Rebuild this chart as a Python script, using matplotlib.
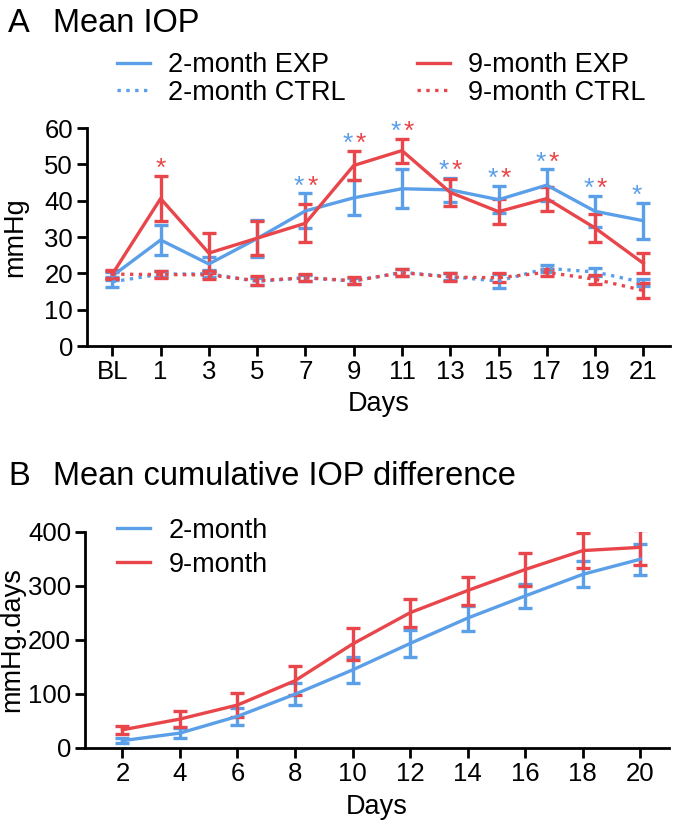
import matplotlib.pyplot as plt

plt.rcParams['font.family'] = ['Liberation Sans', 'DejaVu Sans']

BLUE = '#5B9FE8'
RED = '#E8464A'

# Panel A: mean IOP (mmHg)
days_a = [-1, 1, 3, 5, 7, 9, 11, 13, 15, 17, 19, 21]
day_labels_a = ['BL', '1', '3', '5', '7', '9', '11', '13', '15', '17', '19', '21']
exp_2m = [19.3, 29.2, 22.6, 29.6, 37.2, 40.8, 43.3, 43.0, 40.3, 44.3, 37.1, 34.5]
exp_2m_err = [1.2, 4.2, 1.8, 5.2, 4.8, 4.8, 5.4, 3.3, 3.8, 4.3, 4.3, 4.9]
exp_9m = [19.8, 40.6, 25.6, 29.7, 33.8, 49.7, 53.8, 42.3, 37.0, 40.6, 32.5, 22.8]
exp_9m_err = [1.2, 6.2, 5.4, 4.7, 5.2, 4.1, 3.3, 3.8, 3.4, 3.3, 3.9, 2.7]
ctrl_2m = [17.7, 19.8, 19.9, 17.8, 18.8, 17.9, 20.3, 19.1, 17.9, 21.4, 20.4, 17.5]
ctrl_2m_err = [1.3, 0.9, 1.0, 1.0, 0.9, 0.8, 1.0, 1.0, 1.9, 1.0, 1.0, 1.0]
ctrl_9m = [19.8, 19.7, 19.6, 18.0, 18.8, 18.0, 20.2, 19.0, 18.8, 20.3, 18.4, 15.3]
ctrl_9m_err = [1.0, 1.0, 1.2, 1.3, 1.0, 0.9, 1.0, 1.0, 1.2, 0.9, 1.2, 2.0]
sig_2m = [False, False, False, False, True, True, True, True, True, True, True, True]
sig_9m = [False, True, False, False, True, True, True, True, True, True, True, False]

# Panel B: mean cumulative IOP difference (mmHg.days)
days_b = [2, 4, 6, 8, 10, 12, 14, 16, 18, 20]
cum_2m = [13, 27, 58, 99, 144, 193, 240, 281, 321, 349]
cum_2m_err = [5, 9, 16, 20, 24, 25, 23, 22, 24, 29]
cum_9m = [33, 53, 79, 124, 192, 250, 291, 330, 365, 371]
cum_9m_err = [8, 14, 22, 27, 29, 26, 26, 30, 32, 33]

FS = 19.5

fig = plt.figure(figsize=(6.77, 8.30), dpi=100)
ax_a = fig.add_axes([0.1285, 0.583, 0.861, 0.2627])
ax_b = fig.add_axes([0.1256, 0.0992, 0.8626, 0.2602])

err_kw = dict(capsize=5, capthick=2.4, elinewidth=2.4, linewidth=2.4)

ax_a.errorbar(days_a, exp_2m, yerr=exp_2m_err, color=BLUE, label='2-month EXP', **err_kw)
ax_a.errorbar(days_a, ctrl_2m, yerr=ctrl_2m_err, color=BLUE, linestyle=':', label='2-month CTRL', **err_kw)
ax_a.errorbar(days_a, exp_9m, yerr=exp_9m_err, color=RED, label='9-month EXP', **err_kw)
ax_a.errorbar(days_a, ctrl_9m, yerr=ctrl_9m_err, color=RED, linestyle=':', label='9-month CTRL', **err_kw)

# significance stars above the highest error bar
for i, d in enumerate(days_a):
    top = max(exp_2m[i] + exp_2m_err[i], exp_9m[i] + exp_9m_err[i])
    if sig_2m[i]:
        ax_a.annotate('*', xy=(d, top), xytext=(-4.5, 0), textcoords='offset points',
                      ha='center', va='baseline', color=BLUE, fontsize=19)
    if sig_9m[i]:
        dx = 5 if sig_2m[i] else 0
        ax_a.annotate('*', xy=(d, top), xytext=(dx, 0), textcoords='offset points',
                      ha='center', va='baseline', color=RED, fontsize=19)

ax_a.set_xlim(-2.05, 22.1)
ax_a.set_ylim(0, 60)
ax_a.set_xticks(days_a)
ax_a.set_xticklabels(day_labels_a)
ax_a.set_yticks(range(0, 61, 10))
ax_a.set_xlabel('Days', fontsize=FS, labelpad=5)
ax_a.set_ylabel('mmHg', fontsize=FS)
ax_a.yaxis.set_label_coords(-0.101, 0.5)

ax_b.errorbar(days_b, cum_2m, yerr=cum_2m_err, color=BLUE, label='2-month', **err_kw)
ax_b.errorbar(days_b, cum_9m, yerr=cum_9m_err, color=RED, label='9-month', **err_kw)
ax_b.set_xlim(0.7, 21.0)
ax_b.set_ylim(0, 400)
ax_b.set_xticks(days_b)
ax_b.set_yticks(range(0, 401, 100))
ax_b.set_xlabel('Days', fontsize=FS, labelpad=6)
ax_b.set_ylabel('mmHg.days', fontsize=FS)
ax_b.yaxis.set_label_coords(-0.103, 0.5)

for ax in (ax_a, ax_b):
    ax.spines['top'].set_visible(False)
    ax.spines['right'].set_visible(False)
    ax.spines['left'].set_linewidth(2)
    ax.spines['bottom'].set_linewidth(2)
    ax.tick_params(direction='out', length=7, width=2, labelsize=18.5, pad=3)

leg_kw = dict(loc='upper left', frameon=False, fontsize=FS, handlelength=1.22,
              handletextpad=0.67, borderpad=0, borderaxespad=0)

handles, labels = ax_a.get_legend_handles_labels()
handles = [h[0] for h in handles]
fig.legend(handles[:2], labels[:2], bbox_to_anchor=(0.173, 0.937), labelspacing=0.05, **leg_kw)
fig.legend(handles[2:], labels[2:], bbox_to_anchor=(0.616, 0.937), labelspacing=0.05, **leg_kw)

handles, labels = ax_b.get_legend_handles_labels()
handles = [h[0] for h in handles]
fig.legend(handles, labels, bbox_to_anchor=(0.173, 0.376), labelspacing=0.28, **leg_kw)

fig.text(0.012, 0.9614, 'A', fontsize=23.5, va='baseline')
fig.text(0.078, 0.9614, 'Mean IOP', fontsize=23.5, va='baseline')
fig.text(0.012, 0.4157, 'B', fontsize=23.5, va='baseline')
fig.text(0.078, 0.4157, 'Mean cumulative IOP difference', fontsize=23.5, va='baseline')

fig.savefig('out.png', dpi=100)
